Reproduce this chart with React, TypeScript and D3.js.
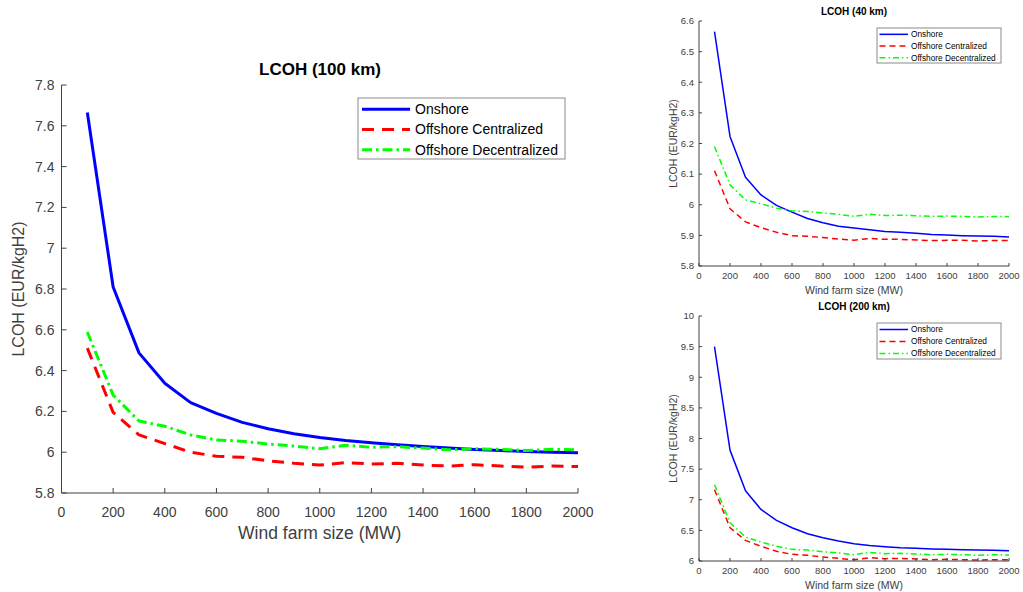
import React from "react";
import * as d3 from "d3";

const sizes = [100,200,300,400,500,600,700,800,900,1000,1100,1200,1300,1400,1500,1600,1700,1800,1900,2000];
const seriesNames = ["Onshore", "Offshore Centralized", "Offshore Decentralized"];

// LCOH (100 km)
const on100 = [7.665,6.81,6.487,6.338,6.243,6.19,6.146,6.115,6.09,6.072,6.057,6.046,6.036,6.028,6.02,6.013,6.008,6.003,6.0,5.997];
const offC100 = [6.51,6.195,6.085,6.042,6.0,5.98,5.975,5.958,5.946,5.937,5.949,5.942,5.946,5.937,5.932,5.939,5.932,5.927,5.932,5.93];
const offD100 = [6.589,6.28,6.153,6.127,6.085,6.06,6.054,6.04,6.03,6.017,6.034,6.024,6.027,6.02,6.012,6.017,6.014,6.008,6.014,6.012];

// LCOH (40 km)
const on40 = [6.565,6.223,6.09,6.032,5.998,5.976,5.955,5.941,5.93,5.924,5.918,5.913,5.91,5.907,5.903,5.901,5.899,5.898,5.897,5.895];
const offC40 = [6.111,5.987,5.944,5.925,5.91,5.899,5.897,5.893,5.888,5.884,5.89,5.887,5.887,5.885,5.883,5.884,5.884,5.882,5.883,5.883];
const offD40 = [6.19,6.065,6.016,6.003,5.989,5.98,5.978,5.973,5.969,5.962,5.969,5.965,5.966,5.964,5.962,5.963,5.962,5.96,5.962,5.961];

// LCOH (200 km)
const on200 = [9.5,7.81,7.147,6.842,6.663,6.543,6.446,6.38,6.326,6.283,6.255,6.234,6.217,6.207,6.196,6.19,6.185,6.18,6.174,6.168];
const offC200 = [7.163,6.543,6.337,6.24,6.158,6.109,6.092,6.065,6.043,6.022,6.054,6.038,6.043,6.033,6.022,6.027,6.022,6.016,6.022,6.022];
const offD200 = [7.245,6.625,6.39,6.31,6.24,6.19,6.18,6.152,6.13,6.103,6.141,6.12,6.125,6.114,6.103,6.109,6.103,6.092,6.103,6.098];

const xTicks = [0,200,400,600,800,1000,1200,1400,1600,1800,2000];
const yTicks100 = [5.8,6,6.2,6.4,6.6,6.8,7,7.2,7.4,7.6,7.8];
const yTicks40 = [5.8,5.9,6,6.1,6.2,6.3,6.4,6.5,6.6];
const yTicks200 = [6,6.5,7,7.5,8,8.5,9,9.5,10];

const FONT = "'Liberation Sans', Arial, Helvetica, sans-serif";
const AXIS = "#404040";
const colors = ["#0000ff", "#ff0000", "#00ff00"];

type Cfg = {
  left: number; right: number; top: number; bottom: number;
  yDomain: [number, number]; yTicks: number[];
  series: number[][]; title: string; titleX: number;
  big: boolean;
  legend: { x: number; y: number; w: number; h: number };
};

function Chart({ c }: { c: Cfg }) {
  const x = d3.scaleLinear().domain([0, 2000]).range([c.left, c.right]);
  const y = d3.scaleLinear().domain(c.yDomain).range([c.bottom, c.top]);
  const line = d3.line<number>().x((_, i) => x(sizes[i])).y((d) => y(d));
  const big = c.big;
  const lw = big ? 3 : 1.5;
  const dashes = big ? ["none", "12,8", "10,4,2.5,4"] : ["none", "6,4", "6,3,1.5,3"];
  const tickLen = big ? 5 : 3;
  const tickFont = big ? 14 : 9.5;
  const xLabelFont = big ? 17.5 : 10.5;
  const yLabelFont = big ? 16 : 10.5;
  const titleFont = big ? 17 : 10;
  const legFont = big ? 14 : 8.3;
  const fmt = (v: number) => String(+v.toFixed(2));
  const rowH = c.legend.h / 3;
  const lx0 = c.legend.x + (big ? 4 : 2.5);
  const lx1 = c.legend.x + (big ? 52 : 31);
  return (
    <g fontFamily={FONT}>
      {c.series.map((s, i) => (
        <path key={i} d={line(s) || ""} fill="none" stroke={colors[i]} strokeWidth={lw}
          strokeDasharray={dashes[i]} strokeLinejoin="round" />
      ))}
      <line x1={c.left} x2={c.right} y1={c.bottom} y2={c.bottom} stroke={AXIS} strokeWidth={1} />
      <line x1={c.left} x2={c.left} y1={c.top} y2={c.bottom} stroke={AXIS} strokeWidth={1} />
      {xTicks.map((t) => (
        <g key={t}>
          <line x1={x(t)} x2={x(t)} y1={c.bottom} y2={c.bottom - tickLen} stroke={AXIS} />
          <text x={x(t)} y={c.bottom + (big ? 24 : 13)} textAnchor="middle" fontSize={tickFont} fill={AXIS}>{t}</text>
        </g>
      ))}
      {c.yTicks.map((t) => (
        <g key={t}>
          <line x1={c.left} x2={c.left + tickLen} y1={y(t)} y2={y(t)} stroke={AXIS} />
          <text x={c.left - (big ? 7 : 5)} y={y(t)} dy="0.35em" textAnchor="end" fontSize={tickFont} fill={AXIS}>{fmt(t)}</text>
        </g>
      ))}
      <text x={(c.left + c.right) / 2} y={c.bottom + (big ? 46 : 28)} textAnchor="middle" fontSize={xLabelFont} fill={AXIS}>Wind farm size (MW)</text>
      <text transform={`translate(${c.left - (big ? 38 : 22)},${(c.top + c.bottom) / 2}) rotate(-90)`}
        textAnchor="middle" fontSize={yLabelFont} fill={AXIS}>LCOH (EUR/kgH2)</text>
      <text x={c.titleX} y={c.top - (big ? 10 : 6)} textAnchor="middle" fontSize={titleFont} fontWeight="bold" fill="#000">{c.title}</text>
      <rect x={c.legend.x} y={c.legend.y} width={c.legend.w} height={c.legend.h} fill="#fff" stroke="#8a8a8a" strokeWidth={1} />
      {seriesNames.map((n, i) => {
        const ly = c.legend.y + rowH * (i + 0.5) + (big ? 1 : 0.5);
        return (
          <g key={n}>
            <line x1={lx0} x2={lx1} y1={ly} y2={ly} stroke={colors[i]} strokeWidth={lw} strokeDasharray={dashes[i]} />
            <text x={lx1 + (big ? 5 : 3)} y={ly} dy="0.35em" fontSize={legFont} fill="#000">{n}</text>
          </g>
        );
      })}
    </g>
  );
}

export default function App() {
  const charts: Cfg[] = [
    {
      left: 61.5, right: 578, top: 85, bottom: 493, yDomain: [5.8, 7.8], yTicks: yTicks100,
      series: [on100, offC100, offD100], title: "LCOH (100 km)", titleX: 320, big: true,
      legend: { x: 358, y: 98, w: 207, h: 61 },
    },
    {
      left: 699, right: 1009, top: 21, bottom: 266, yDomain: [5.8, 6.6], yTicks: yTicks40,
      series: [on40, offC40, offD40], title: "LCOH (40 km)", titleX: 854, big: false,
      legend: { x: 877, y: 28, w: 124, h: 35 },
    },
    {
      left: 699, right: 1009, top: 316, bottom: 561, yDomain: [6, 10], yTicks: yTicks200,
      series: [on200, offC200, offD200], title: "LCOH (200 km)", titleX: 854, big: false,
      legend: { x: 877, y: 323, w: 124, h: 36 },
    },
  ];
  return (
    <div style={{ position: "absolute", left: 0, top: 0 }}>
      <svg width={1023} height={592} style={{ display: "block", background: "#fff" }}>
        <rect width={1023} height={592} fill="#fff" />
        {charts.map((c, i) => <Chart key={i} c={c} />)}
      </svg>
    </div>
  );
}
